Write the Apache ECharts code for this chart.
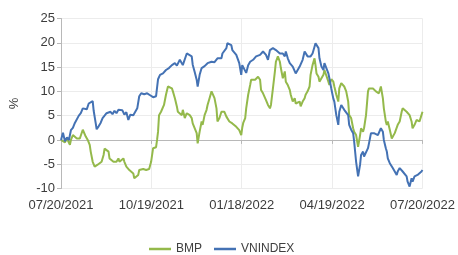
<!DOCTYPE html>
<html>
<head>
<meta charset="utf-8">
<script src="https://cdn.jsdelivr.net/npm/echarts@6/dist/echarts.min.js"></script>
<style>
html,body{margin:0;padding:0;background:#fff;}
#chart{width:458px;height:255px;}
</style>
</head>
<body>
<div id="chart"></div>
<script>
// X tick labels (every ~91 days starting 07/20/2021)
const tickLabels = ['07/20/2021', '10/19/2021', '01/18/2022', '04/19/2022', '07/20/2022'];
const yTicks = [-10, -5, 0, 5, 10, 15, 20, 25];

// VNINDEX: day offset from 07/20/2021 and % change
const vnDays = [0,2,4,6,8,10,12,14,16,18,20,22,24,26,28,30,32,33,35,36,38,40,42,44,46,48,50,52,54,56,58,60,62,64,66,68,70,73,75,77,79,81,84,87,90,93,96,98,100,103,106,109,112,113,115,117,120,123,127,129,132,133,135,137,138,140,142,145,148,152,155,157,158,160,162,163,165,167,168,170,172,173,175,177,178,180,182,183,185,187,189,191,194,197,201,204,206,207,209,211,214,217,219,221,224,226,227,229,231,234,237,239,241,244,246,247,249,251,252,254,256,257,258,260,261,263,265,266,268,270,271,273,275,276,278,280,281,283,285,286,288,290,291,293,295,296,298,300,301,302,303,305,306,308,310,311,313,315,316,318,320,321,323,325,326,328,329,330,332,334,335,337,339,340,342,344,345,347,349,350,352,354,355,357,359,360,362,364,365];
const vnValues = [0,1.5,-0.3,0.5,0,2,2.5,3.5,3.3,5,5.5,6.5,6.8,6.3,7.5,7.2,8,6,3.5,2.2,2.8,3.5,4.5,5,5.5,5.2,5.8,5.3,6.0,5.5,6.2,5.8,6.1,5.2,5.7,4.1,5.2,5.1,5.4,6.5,9.0,9.6,9.4,9.6,9.2,8.8,9.0,12.5,13.4,13.7,14.4,14.8,15.4,15.0,15.8,15.3,16.5,15.4,17.8,17.5,17.2,15.5,14,12.4,11,13.4,14.8,15.2,15.8,16.1,16.0,15.8,16.8,17.2,16.8,17.8,17.5,18.9,19.9,20.1,19.5,18.5,18.2,17.5,17.8,15.8,13.4,15.4,15.8,13.8,15.4,16.1,16.5,17.2,17.5,18.2,17.8,17.5,16.5,18.5,18.9,18.5,18.9,17.8,17.8,17.2,18.2,16.8,15.8,15.1,13.7,14.4,15.1,16.5,18.2,17.8,17.2,16.8,17.2,17.8,19.2,19.9,19.7,18.9,16.8,15.1,14.4,15.8,15.4,13.7,12.7,10.5,8.5,7.9,5.1,3.1,5.8,7.2,6.8,6.2,5.8,5.1,3.1,2.1,1.4,-0.3,-4.5,-7.5,-7.9,-5.1,-3.1,-2.4,-3.4,-3.8,-1.7,-0.7,1.4,1.7,1.4,1.7,1.0,1.4,2.4,1.7,0,-1.7,-2.4,-3.8,-4.8,-4.5,-5.8,-6.5,-7.2,-6.5,-5.8,-6.2,-6.5,-6.9,-7.5,-8.6,-9.6,-7.9,-8.6,-7.5,-7.9,-7.2,-7.5,-6.5,-6.2];

// BMP: day offset from 07/20/2021 and % change
const bmpDays = [0,2,4,6,7,9,10,12,14,16,17,19,20,22,24,25,27,29,30,32,34,35,37,39,41,43,44,46,48,49,51,53,54,56,58,59,61,63,64,66,68,69,71,73,74,76,78,79,81,83,84,86,88,89,91,93,94,96,97,98,99,101,103,104,106,108,109,110,112,113,115,117,118,120,122,123,125,127,128,130,132,133,135,137,138,140,142,143,145,147,148,150,152,153,155,157,158,160,162,163,165,167,168,170,172,173,175,177,178,180,182,183,184,186,187,189,191,192,194,196,197,199,201,202,204,206,207,209,211,212,214,216,217,219,221,222,224,226,227,229,231,232,234,236,237,239,241,242,244,246,247,249,251,252,254,256,257,258,260,261,263,265,266,268,270,271,273,275,276,278,280,281,283,285,286,288,290,291,293,295,296,298,300,301,302,303,305,306,308,310,311,313,315,316,318,320,321,323,325,326,328,329,330,332,334,335,337,339,340,342,344,345,347,349,350,352,354,355,357,359,360,362,364,365];
const bmpValues = [0,0.3,-0.5,0.3,0.7,-1.0,0,1.0,0.7,0.3,0.5,0.3,0.7,2.1,1.8,0.7,0,-1.0,-2.4,-4.5,-5.5,-5.8,-5.1,-5.5,-4.5,-3.1,-1.8,-1.6,-2.4,-3.8,-4.1,-4.5,-4.1,-4.5,-3.8,-4.5,-4.1,-3.8,-4.5,-5.5,-5.8,-6.2,-6.5,-6.9,-7.9,-8.2,-7.2,-6.2,-5.8,-6.0,-5.9,-6.2,-5.8,-6.0,-4.5,-1.7,-2.0,-1.5,0,1.7,5.1,5.8,6.2,7.2,9.3,11.0,11.3,11.0,10.6,10.0,8.6,6.9,5.8,5.8,5.1,6.2,4.5,5.5,5.8,5.1,4.5,3.4,3.1,1.4,-0.7,1.7,3.8,3.1,5.1,6.2,7.2,8.6,10.0,9.6,8.6,6.5,3.8,4.5,5.8,6.2,5.8,4.8,5.1,3.8,4.1,3.4,3.1,2.7,2.4,2.0,1.0,2.5,3.5,4.5,6.5,9.3,11.3,12.4,12.0,12.4,12.7,13.0,12.4,10.3,9.6,9.3,8.2,7.2,6.5,7.2,10.6,14.1,16.1,17.2,16.1,14.8,12.7,14.1,12.0,11.3,10.3,9.3,7.9,8.6,7.5,7.2,7.9,6.9,7.9,8.6,9.3,10.0,11.0,13.4,15.4,16.8,15.4,13.7,13.0,12.0,12.4,13.4,14.4,14.1,12.0,11.3,12.5,12,11,9.3,7.9,10.6,11.7,11.3,11.0,10.0,7.9,5.1,4.5,2.4,1.7,1.0,-1.4,-1.7,1.0,2.4,1.7,2.4,5.1,10.0,10.6,10.9,10.6,10.3,10.0,10.3,9.6,11.0,8.6,6.5,3.8,3.1,3.8,2.1,0.3,0.3,1.4,1.7,3.1,3.8,5.8,6.5,6.2,5.8,5.8,5.1,3.8,2.4,3.1,4.1,3.8,3.8,5.1,5.8];

const pairs = (xs, ys) => xs.map((d, i) => [d, ys[i]]);

const chart = echarts.init(document.getElementById('chart'), null, {renderer: 'canvas'});
const axisText = {color: '#3c3c3c', fontSize: 13, fontFamily: 'Liberation Sans, Arial, sans-serif'};
chart.setOption({
  animation: false,
  backgroundColor: '#ffffff',
  grid: {left: 53, right: 35, top: 18.5, bottom: 66.5, containLabel: false},
  legend: {
    data: ['BMP', 'VNINDEX'],
    left: 144, top: 238,
    icon: 'rect',
    itemWidth: 22, itemHeight: 2.5, itemGap: 12,
    textStyle: {color: '#404040', fontSize: 12, fontFamily: 'Liberation Sans, Arial, sans-serif'}
  },
  xAxis: {
    type: 'value', min: 0, max: 365, interval: 91.25,
    axisLine: {show: true, lineStyle: {color: '#b8b8b8', width: 1}},
    axisTick: {show: true, length: 4, lineStyle: {color: '#b8b8b8'}},
    splitLine: {show: true, lineStyle: {color: '#ececec', width: 1}},
    axisLabel: Object.assign({margin: 10, formatter: v => tickLabels[Math.round(v / 91.25)] || ''}, axisText)
  },
  yAxis: {
    type: 'value', min: yTicks[0], max: yTicks[yTicks.length - 1], interval: 5,
    name: '%', nameLocation: 'middle', nameRotate: 90, nameGap: 40,
    nameTextStyle: {color: '#404040', fontSize: 13, fontFamily: 'Liberation Sans, Arial, sans-serif'},
    axisLine: {show: true, lineStyle: {color: '#b8b8b8', width: 1}},
    axisTick: {show: true, length: 4, lineStyle: {color: '#b8b8b8'}},
    splitLine: {show: true, lineStyle: {color: '#ececec', width: 1}},
    axisLabel: Object.assign({margin: 6}, axisText)
  },
  series: [
    {name: 'BMP', type: 'line', symbol: 'none', data: pairs(bmpDays, bmpValues),
     lineStyle: {color: '#94b94b', width: 2}, itemStyle: {color: '#94b94b'}, z: 2},
    {name: 'VNINDEX', type: 'line', symbol: 'none', data: pairs(vnDays, vnValues),
     lineStyle: {color: '#4472b4', width: 2}, itemStyle: {color: '#4472b4'}, z: 3}
  ]
});
</script>
</body>
</html>
